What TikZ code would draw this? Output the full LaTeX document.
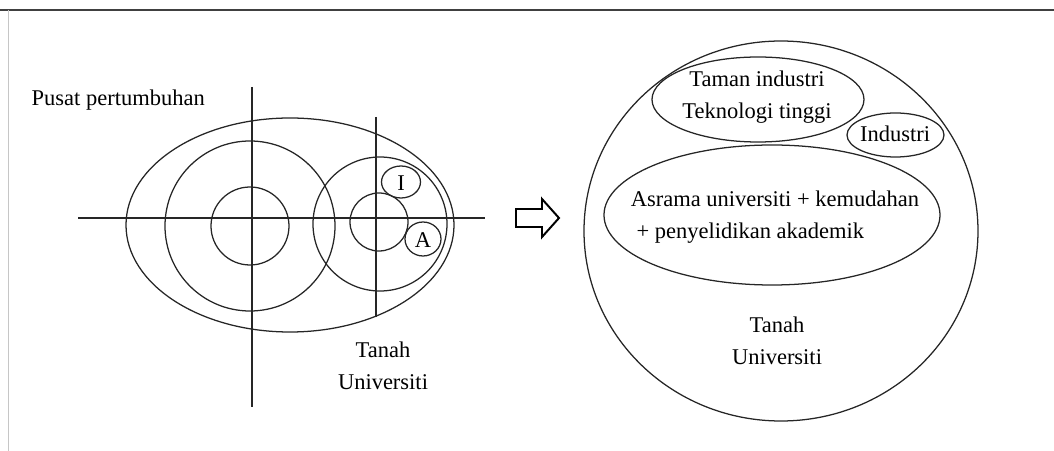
\documentclass[tikz,border=0pt]{standalone}
\usepackage{fontspec}
\setmainfont{Liberation Serif}
\usepackage{tikz}
\usetikzlibrary{positioning}

\begin{document}
\begin{tikzpicture}[x=0.025cm, y=-0.025cm,
        ring/.style={draw=black!85, line width=0.9pt},
        lbl/.style={font=\fontsize{16}{22.5}\selectfont, align=center, inner sep=1pt},
    ]
    \useasboundingbox (0,0) rectangle (1054,451);

    % ---- Frame ----
    \draw[black!75, line width=1.3pt] (0,10) -- (1054,10);
    \draw[gray!45, line width=0.6pt] (8,10) -- (8,451);

    % ---- Left: growth centre ----
    \node[lbl, anchor=base west] (pusat) at (30,106) {Pusat pertumbuhan};

    \draw[ring] (252,87) -- (252,407);
    \draw[ring] (78,218) -- (485,218);
    \draw[ring] (376,117) -- (376,317);

    \draw[ring] (290,225) ellipse [x radius=164, y radius=107];
    \draw[ring] (250,226) circle [radius=85];
    \draw[ring] (250,226) circle [radius=39];
    \draw[ring] (380,224) circle [radius=67];
    \draw[ring] (379,222) circle [radius=29];

    \draw[ring] (401,182) ellipse [x radius=19.5, y radius=16];
    \node[lbl] (labI) at (401,183) {I};
    \draw[ring] (423,239) ellipse [x radius=18, y radius=17];
    \node[lbl] (labA) at (423,240) {A};

    \node[lbl] (tanahA) at (383,366) {Tanah\\Universiti};

    % ---- Hollow arrow ----
    \draw[black, line width=1.4pt, line join=miter]
        (516,209) -- (542,209) -- (542,199) -- (559,218)
        -- (542,237) -- (542,227) -- (516,227) -- cycle;

    % ---- Right: university land ----
    \draw[ring] (781,231) ellipse [x radius=197, y radius=190];

    \draw[ring] (758,99.5) ellipse [x radius=106, y radius=42.5];
    \node[lbl] (taman) at (757,97) {Taman industri\\Teknologi tinggi};

    \draw[ring] (895.5,135) ellipse [x radius=48.5, y radius=22];
    \node[lbl] (industri) at (895,134) {Industri};

    \draw[ring] (772,215) ellipse [x radius=168, y radius=70];
    \node[lbl, align=left] (asrama) at (775,217)
        {Asrama universiti + kemudahan\\\ + penyelidikan akademik};

    \node[lbl] (tanahB) at (777,341) {Tanah\\Universiti};

\end{tikzpicture}
\end{document}
